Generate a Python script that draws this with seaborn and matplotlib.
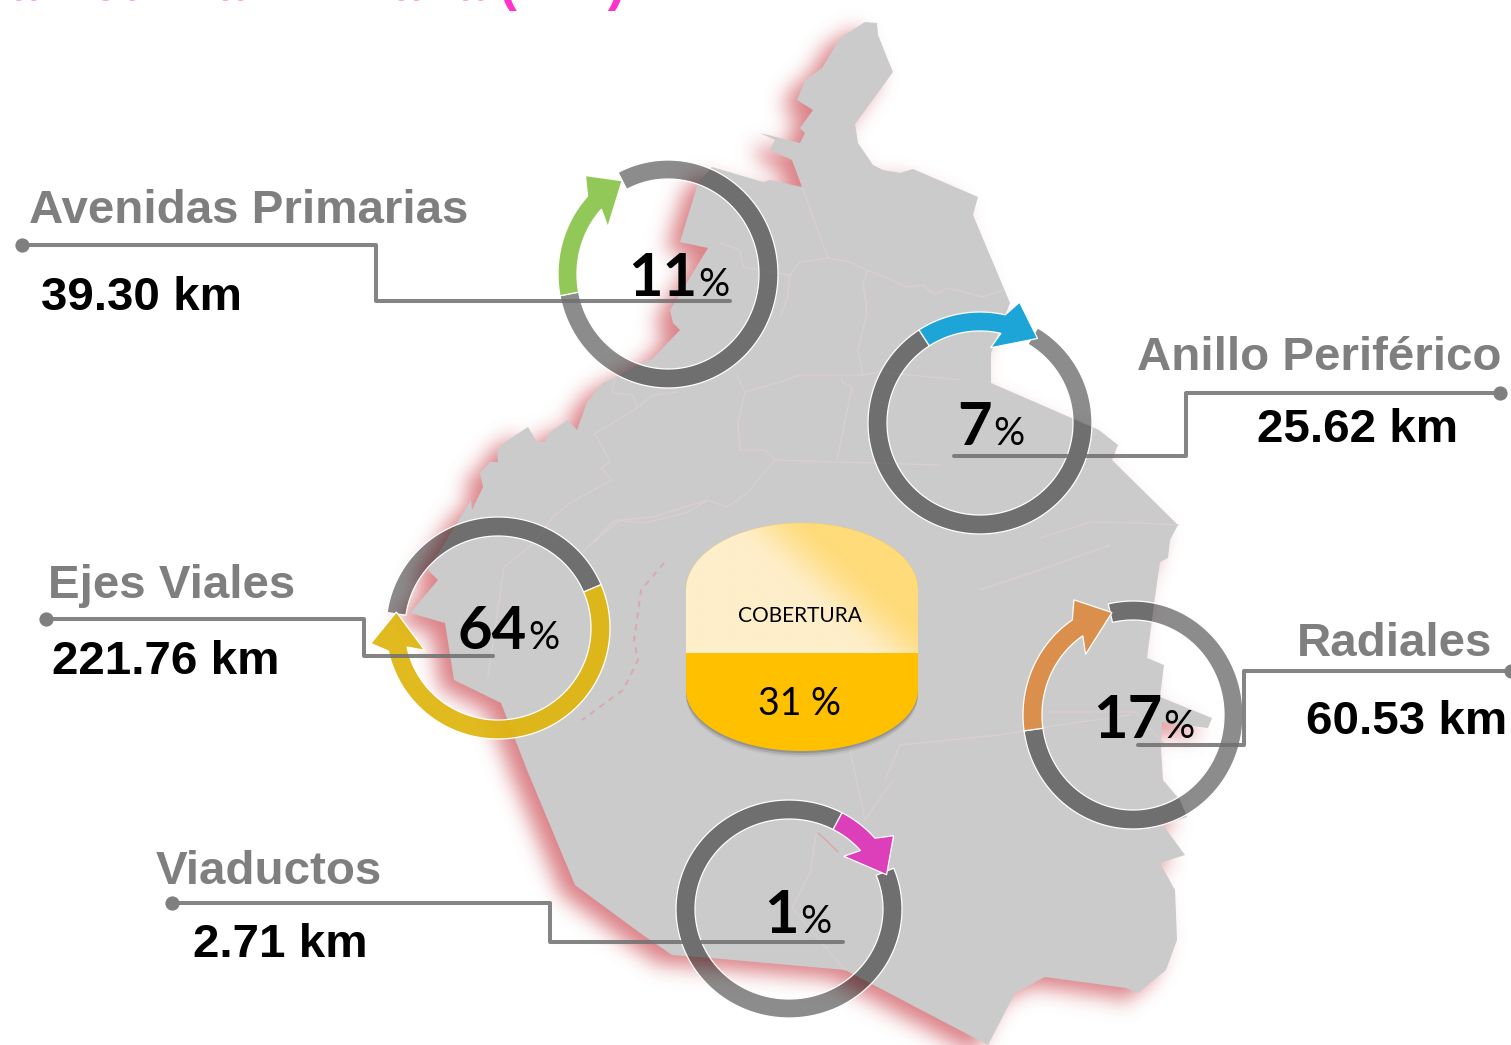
import matplotlib
matplotlib.use("Agg")
import matplotlib.pyplot as plt
from matplotlib.patches import Polygon
from matplotlib.path import Path
import numpy as np
import seaborn as sns

# values shown on the chart
categories = ['Avenidas Primarias', 'Anillo Periférico', 'Ejes Viales', 'Radiales', 'Viaductos']
lengths = ['39.30 km', '25.62 km', '221.76 km', '60.53 km', '2.71 km']
shares = ['11', '7', '64', '17', '1']
coverage = '31 %'
title = 'Longitud de la Red Vial Primaria (km )'

# outline of the city, in picture pixels
map_x = [865, 877, 878, 888, 893, 880, 855, 858, 873, 883, 900, 913, 978, 973, 1010, 991, 991, 1099, 1118, 1112,
         1178, 1170, 1168, 1160, 1155, 1147, 1164, 1160, 1212, 1208, 1162, 1161, 1163, 1180, 1187, 1163, 1185, 1160,
         1175, 1177, 1166, 1138, 1126, 1045, 1015, 988, 845, 711, 672, 640, 575, 527, 501, 454, 445, 410, 438, 428,
         471, 472, 483, 480, 490, 498, 497, 508, 528, 537, 545, 550, 568, 577, 587, 603, 620, 653, 680, 673, 670,
         708, 680, 698, 712, 763, 770, 802, 792, 770, 775, 760, 800, 805, 800, 813, 797, 802, 805, 822, 840]
map_y = [22, 23, 35, 60, 72, 90, 124, 143, 165, 170, 173, 169, 197, 215, 303, 353, 383, 430, 445, 460,
         525, 540, 558, 562, 597, 658, 665, 697, 718, 728, 722, 747, 780, 800, 817, 825, 855, 863,
         890, 940, 970, 993, 988, 977, 993, 1045, 970, 958, 955, 933, 885, 770, 703, 680, 623, 613, 580, 570,
         500, 510, 487, 473, 462, 462, 450, 440, 427, 442, 442, 432, 420, 430, 402, 383, 375, 358, 330, 323, 310,
         248, 242, 183, 167, 182, 180, 187, 160, 150, 140, 133, 143, 133, 128, 110, 100, 88, 80, 68, 38]

# faint roads inside the map
roads_x = [[802, 828, 850, 867, 887, 907, 923, 935, 947, 983, 1003], [867, 863, 867],
           [828, 800, 790, 787, 780], [720, 740, 743, 790],
           [737, 745, 738, 740, 765, 775, 837, 873, 940], [745, 780, 800, 863, 880, 960],
           [775, 747, 727, 707, 653, 620, 590], [863, 858, 867, 863], [837, 852, 842, 842],
           [615, 612, 633, 637, 593, 597, 610, 601, 612, 570, 553], [637, 653, 677],
           [504, 488], [504, 534, 556], [582, 615, 645, 686, 708],
           [1040, 1090, 1140, 1178], [816, 810, 792, 845], [893, 865, 850, 857],
           [1130, 1060, 1000, 900, 885], [980, 1040, 1110], [1050, 1092, 1135, 1165]]
roads_y = [[187, 258, 262, 270, 278, 287, 285, 295, 288, 297, 290], [270, 287, 307],
           [258, 262, 275, 300, 317], [243, 250, 267, 275],
           [375, 392, 423, 450, 450, 460, 462, 463, 465], [392, 382, 375, 375, 372, 380],
           [460, 493, 507, 500, 517, 520, 545], [375, 350, 313, 280], [460, 387, 382, 377],
           [377, 393, 395, 408, 435, 437, 462, 468, 480, 503, 517], [408, 395, 392],
           [567, 677], [567, 543, 513], [553, 520, 523, 513, 500],
           [538, 522, 523, 525], [835, 873, 908, 970], [780, 820, 750, 745],
           [715, 725, 735, 745, 780], [590, 570, 545], [712, 712, 712, 745]]
pink_x = [664, 641, 638, 634, 638, 623, 582]
pink_y = [563, 590, 613, 640, 660, 690, 720]
pink2_x = [818, 826, 838]
pink2_y = [833, 840, 852]

# rings: centre, radii, and angles of arc and arrow in degrees (clockwise sweep)
ring_cx = [668, 980, 498, 1133, 789]
ring_cy = [274, 423, 628, 715, 909]
ring_rx = [110, 112, 112, 110, 113]
ring_ry = [114, 111, 111, 114, 109]
gray_from = [117, 59, 172, 103, 22]
gray_to = [-169, -237, 23, -172, -298]
arrow_start = [191, 123, 23, 188, 62]
arrow_tip = [117, 56, -189, 102, 20]
barb_out = [131, 72, -173, 118, 36]
barb_in = [143, 82, -163, 129, 45]
arrow_colors = ['#92C857', '#1DA5D8', '#DFB50F', '#DA8F4C', '#DD3FBA']
arrow_alpha = [1, 1, 0.93, 1, 1]

# leader lines
lead_x = [[22, 376, 376, 730], [1500, 1186, 1186, 954], [46, 364, 364, 493], [1511, 1244, 1244, 1138], [172, 550, 550, 843]]
lead_y = [[245, 245, 301, 301], [393, 393, 456, 456], [619, 619, 656, 656], [671, 671, 745, 745], [903, 903, 942, 942]]

# text anchors
cat_x = [29, 1137, 48, 1297, 156]
cat_y = [223, 370, 598, 656, 884]
km_x = [41, 1257, 52, 1306, 193]
km_y = [310, 442, 674, 734, 957]
pct_x = [696, 991, 526, 1161, 798]
pct_y = [296, 445, 649, 738, 933]

GRAY = '#7F7F7F'
RING_WIDTH = 19


def ellipse_pts(cx, cy, rx, ry, a0, a1, n=120):
    t = np.radians(np.linspace(a0, a1, n))
    return np.column_stack([cx + rx * np.cos(t), cy - ry * np.sin(t)])


def band(cx, cy, rx, ry, a0, a1):
    outer = ellipse_pts(cx, cy, rx, ry, a0, a1)
    inner = ellipse_pts(cx, cy, rx - RING_WIDTH, ry - RING_WIDTH, a1, a0)
    return np.vstack([outer, inner])


def blur(img, sigma):
    h, w = img.shape
    fy = np.fft.fftfreq(h)[:, None]
    fx = np.fft.rfftfreq(w)[None, :]
    kernel = np.exp(-2 * (np.pi * sigma) ** 2 * (fx ** 2 + fy ** 2))
    return np.fft.irfft2(np.fft.rfft2(img) * kernel, s=img.shape)


sns.set_theme(style="white")
fig = plt.figure(figsize=(15.11, 10.45), dpi=100)
ax = fig.add_axes([0, 0, 1, 1])
outline = np.column_stack([map_x, map_y])

# blurred red shadow of the map, done at half size
gx, gy = np.meshgrid(np.arange(-60, 1600, 2), np.arange(-60, 1120, 2))
inside = Path(outline + [-14, 9]).contains_points(np.column_stack([gx.ravel(), gy.ravel()]))
shadow = blur(inside.reshape(gx.shape).astype(float), 5)
rgba = np.zeros(shadow.shape + (4,))
rgba[..., :3] = [0.80, 0.30, 0.33]
rgba[..., 3] = np.clip(shadow, 0, 1) * 0.7
ax.imshow(rgba, extent=[-61, 1599, 1119, -61], aspect='auto', zorder=1, interpolation='bilinear')

ax.add_patch(Polygon(outline, closed=True, facecolor='#CBCBCB', edgecolor='none', zorder=2))

for rx_, ry_ in zip(roads_x, roads_y):
    sns.lineplot(x=rx_, y=ry_, sort=False, estimator=None, color='#DACFCF', lw=1.0, ax=ax, zorder=3)
sns.lineplot(x=pink_x, y=pink_y, sort=False, estimator=None, color='#D9A8AC', lw=1.4, ls=(0, (3, 3)), ax=ax, zorder=3)
sns.lineplot(x=pink2_x, y=pink2_y, sort=False, estimator=None, color='#D9A8AC', lw=1.0, ax=ax, zorder=3)

# rings and arrows
for i in range(len(categories)):
    cx, cy, rx, ry = ring_cx[i], ring_cy[i], ring_rx[i], ring_ry[i]
    ax.add_patch(Polygon(band(cx, cy, rx, ry, gray_from[i], gray_to[i]), closed=True,
                         facecolor=(0, 0, 0, 0.45), edgecolor='white', lw=0.9, zorder=4))
    sx, sy = rx / 111, ry / 111
    base = (barb_out[i] + barb_in[i]) / 2
    outer = ellipse_pts(cx, cy, rx, ry, arrow_start[i], base)
    inner = ellipse_pts(cx, cy, rx - RING_WIDTH, ry - RING_WIDTH, base, arrow_start[i])
    head = np.vstack([ellipse_pts(cx, cy, 127 * sx, 127 * sy, barb_out[i], barb_out[i], 1),
                      ellipse_pts(cx, cy, 102 * sx, 102 * sy, arrow_tip[i], arrow_tip[i], 1),
                      ellipse_pts(cx, cy, 76 * sx, 76 * sy, barb_in[i], barb_in[i], 1)])
    ax.add_patch(Polygon(np.vstack([outer, head, inner]), closed=True,
                         facecolor=matplotlib.colors.to_rgba(arrow_colors[i], arrow_alpha[i]),
                         edgecolor='white', lw=0.9, zorder=5))

# leader lines and end dots
for i in range(len(categories)):
    sns.lineplot(x=lead_x[i], y=lead_y[i], sort=False, estimator=None, color='#6F6F6F', alpha=0.85,
                 lw=2.9, ax=ax, zorder=6)
    sns.scatterplot(x=lead_x[i][:1], y=lead_y[i][:1], color=GRAY, s=105, linewidth=0, ax=ax, zorder=6, clip_on=True)

# cylinder
top_arc = ellipse_pts(802, 590, 116, 67, 180, 0)
low_arc = ellipse_pts(802, 690, 116, 61, 0, -180)
body = np.vstack([top_arc, low_arc])
for off, a in zip([6, 4, 2], [0.08, 0.14, 0.2]):
    ax.add_patch(Polygon(body + [0, off], closed=True, facecolor=(0.2, 0.2, 0.2, a), edgecolor='none', zorder=7))
ax.add_patch(Polygon(body, closed=True, facecolor='#FFC000', edgecolor='none', zorder=8))
xx, yy = np.meshgrid(np.linspace(686, 918, 120), np.linspace(523, 653, 80))
t = np.clip(((xx - 802) - 1.1 * (yy - 560) + 40) / 90, 0, 1)
t = t * t * (3 - 2 * t)
pale, gold = np.array([254, 238, 201]) / 255, np.array([255, 219, 122]) / 255
grad = pale + (gold - pale) * t[..., None]
img = ax.imshow(grad, extent=[686, 918, 653, 523], aspect='auto', zorder=9)
upper = np.vstack([top_arc, [[918, 653], [686, 653]]])
img.set_clip_path(Polygon(upper, closed=True, transform=ax.transData))

# texts
ax.text(625, 0, title, color='#FF33CC', fontsize=38, fontweight='bold', family='Liberation Sans',
        ha='right', va='baseline', zorder=10)
for i, cat in enumerate(categories):
    ax.text(cat_x[i], cat_y[i], cat, color=GRAY, fontsize=34.2, fontweight='bold', family='Liberation Sans',
            ha='left', va='baseline', zorder=10)
    ax.text(km_x[i], km_y[i], lengths[i], color='black', fontsize=34.2, fontweight='bold', family='Liberation Sans',
            ha='left', va='baseline', zorder=10)
    ax.text(pct_x[i] + 1, pct_y[i], shares[i], color='black', fontsize=43, fontweight='bold', family='Lato',
            ha='right', va='baseline', zorder=10)
    ax.text(pct_x[i] + 2, pct_y[i], '%', color='black', fontsize=28, family='Lato',
            ha='left', va='baseline', zorder=10)
ax.text(800, 622, 'COBERTURA', color='black', fontsize=15, family='Lato', ha='center', va='baseline', zorder=10)
ax.text(800, 715, coverage, color='black', fontsize=27, family='Lato', ha='center', va='baseline', zorder=10)

ax.set_xlim(0, 1511)
ax.set_ylim(1045, 0)
ax.axis('off')
fig.savefig('out.png', dpi=100, facecolor='white')
